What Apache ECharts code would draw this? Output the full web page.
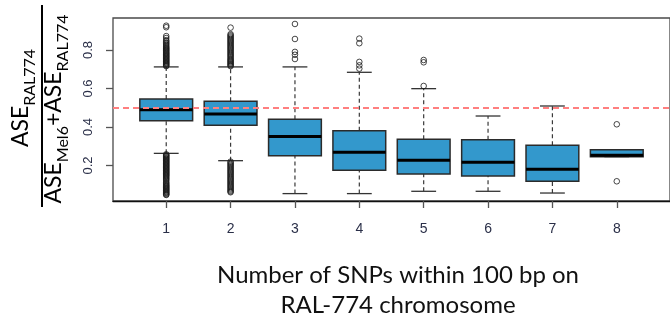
<!DOCTYPE html>
<html><head><meta charset="utf-8">
<script src="https://cdn.jsdelivr.net/npm/echarts@6/dist/echarts.min.js"></script>
<style>html,body{margin:0;padding:0;background:#fff}#c{width:670px;height:323px}</style>
</head><body><div id="c"></div><script>
// ---- data ----
const categories = [1, 2, 3, 4, 5, 6, 7, 8];
const whiskerLow  = [0.263, 0.225, 0.054, 0.054, 0.066, 0.066, 0.057, 0.246];
const quartile1   = [0.433, 0.409, 0.251, 0.175, 0.156, 0.145, 0.118, 0.246];
const medians     = [0.490, 0.467, 0.350, 0.269, 0.227, 0.217, 0.180, 0.253];
const quartile3   = [0.545, 0.533, 0.440, 0.381, 0.336, 0.334, 0.305, 0.282];
const whiskerHigh = [0.712, 0.712, 0.712, 0.684, 0.599, 0.457, 0.509, 0.282];
const outliers1 = [0.716,0.72,0.724,0.728,0.732,0.736,0.74,0.744,0.748,0.752,0.756,0.76,0.764,0.768,0.772,0.776,0.78,0.784,0.788,0.793,0.797,0.801,0.806,0.81,0.815,0.82,0.826,0.832,0.838,0.845,0.851,0.862,0.872,0.918,0.926,
  0.258,0.254,0.25,0.246,0.242,0.238,0.234,0.23,0.226,0.222,0.218,0.214,0.21,0.206,0.202,0.198,0.194,0.19,0.186,0.182,0.178,0.174,0.17,0.166,0.162,0.158,0.154,0.15,0.146,0.141,0.136,0.131,0.126,0.12,0.113,0.108,0.103,0.098,0.094,0.09,0.086,0.082,0.078,0.074,0.07,0.066,0.062,0.058,0.054,0.05,0.047];
const outliers2 = [0.716,0.72,0.725,0.73,0.735,0.74,0.745,0.75,0.755,0.762,0.768,0.774,0.78,0.786,0.792,0.798,0.804,0.81,0.816,0.822,0.828,0.834,0.84,0.846,0.852,0.858,0.864,0.87,0.876,0.882,0.916,
  0.22,0.214,0.208,0.202,0.196,0.19,0.184,0.178,0.172,0.166,0.16,0.154,0.148,0.142,0.136,0.13,0.124,0.118,0.112,0.106,0.1,0.094,0.088,0.082,0.076,0.07,0.065,0.061];
const outliers3 = [0.935, 0.857, 0.79, 0.775, 0.753];
const outliers4 = [0.859, 0.835, 0.738, 0.72, 0.703];
const outliers5 = [0.748, 0.736, 0.613];
const outliers6 = [];
const outliers7 = [];
const outliers8 = [0.414, 0.118];
const yTicks = [0.2, 0.4, 0.6, 0.8];
const xTicks = categories;
const refLine = 0.5;
const xTitle = ['Number of SNPs within 100 bp on', 'RAL-774 chromosome'];

// ---- build ----
const allOutliers = [outliers1, outliers2, outliers3, outliers4, outliers5, outliers6, outliers7, outliers8];
const boxData = categories.map((c, i) => [c, whiskerLow[i], quartile1[i], medians[i], quartile3[i], whiskerHigh[i]]);
const outlierData = [];
allOutliers.forEach((arr, i) => arr.forEach(v => outlierData.push([categories[i], v])));

const TF = 'Lato';
const ctx = document.createElement('canvas').getContext('2d');
function tw(t, size) { ctx.font = size + 'px ' + TF; return ctx.measureText(t).width; }

function fracRow(parts, cx, mainY, subY) {
  const total = parts.reduce((s, p) => s + tw(p.t, p.s), 0);
  let x = cx - total / 2;
  return parts.map(p => {
    const el = { type: 'text', x: x, y: p.sub ? subY : mainY,
      style: { text: p.t, font: p.s + 'px ' + TF, fill: '#000', align: 'left', verticalAlign: 'middle' } };
    x += tw(p.t, p.s);
    return el;
  });
}
const MS = 23, SS = 16;
const num = fracRow([{t:'ASE', s:MS}, {t:'RAL774', s:SS, sub:true}], 8, -21, -12);
const den = fracRow([{t:'ASE', s:MS}, {t:'Mel6', s:SS, sub:true}, {t:'+', s:MS}, {t:'ASE', s:MS}, {t:'RAL774', s:SS, sub:true}], -3, 12, 21);

const chart = echarts.init(document.getElementById('c'));
chart.setOption({
  animation: false,
  backgroundColor: '#fff',
  grid: { left: 113, top: 18, width: 561.6, height: 183, show: true, borderColor: '#4a4a4a', borderWidth: 1.3 },
  xAxis: {
    type: 'value', min: 0.173, max: 8.827,
    splitLine: { show: false },
    axisLine: { show: true, onZero: false, lineStyle: { color: '#111', width: 1.3 } },
    axisTick: { show: true, customValues: xTicks, length: 7, lineStyle: { color: '#555', width: 1.3 } },
    axisLabel: { customValues: xTicks, fontFamily: 'Liberation Sans', fontSize: 14, color: '#2a2f48', margin: 21 }
  },
  yAxis: {
    type: 'value', min: 0.0156, max: 0.966,
    splitLine: { show: false },
    axisLine: { show: false },
    axisTick: { show: true, customValues: yTicks, length: 7, lineStyle: { color: '#555', width: 1.3 } },
    axisLabel: { customValues: yTicks, rotate: 90, fontFamily: 'Liberation Sans', fontSize: 13, color: '#2a2f48', margin: 18,
      formatter: v => v.toFixed(1) }
  },
  series: [
    {
      type: 'custom', z: 2,
      data: boxData,
      encode: { x: 0, y: [1, 2, 3, 4, 5] },
      renderItem: function (params, api) {
        const x = api.value(0), lo = api.value(1), a = api.value(2), m = api.value(3), b = api.value(4), hi = api.value(5);
        const BW = 0.41, CW = 0.193;
        const c = (xx, yy) => api.coord([xx, yy]);
        const dash = { stroke: '#3a3a3a', lineWidth: 1.2, lineDash: [4, 3], fill: null };
        const solid = { stroke: '#333', lineWidth: 1.3, fill: null };
        const ln = (p1, p2, st) => ({ type: 'line', shape: { x1: p1[0], y1: p1[1], x2: p2[0], y2: p2[1] }, style: st });
        const tl = c(x - BW, b), br = c(x + BW, a);
        return { type: 'group', children: [
          ln(c(x, b), c(x, hi), dash),
          ln(c(x, lo), c(x, a), dash),
          ln(c(x - CW, hi), c(x + CW, hi), solid),
          ln(c(x - CW, lo), c(x + CW, lo), solid),
          { type: 'rect', shape: { x: tl[0], y: tl[1], width: br[0] - tl[0], height: br[1] - tl[1] },
            style: { fill: '#3398cc', stroke: '#2b2b2b', lineWidth: 1.5 } },
          ln(c(x - BW, m), c(x + BW, m), { stroke: '#000', lineWidth: 3 })
        ] };
      }
    },
    {
      type: 'scatter', z: 3,
      data: outlierData,
      symbol: 'circle', symbolSize: 5.6,
      itemStyle: { color: 'rgba(0,0,0,0)', borderColor: '#1a1a1a', borderWidth: 1 },
      silent: true
    },
    {
      type: 'line', z: 5, data: [], silent: true,
      markLine: { silent: true, symbol: 'none', label: { show: false },
        lineStyle: { color: '#ff7f7f', type: [6, 4], width: 2 },
        data: [{ yAxis: refLine }] }
    }
  ],
  graphic: [
    { type: 'group', x: 42, y: 106, rotation: Math.PI / 2, children: [
      { type: 'line', shape: { x1: -101, y1: 0, x2: 101, y2: 0 }, style: { stroke: '#000', lineWidth: 2 } }
    ].concat(num, den) },
    { type: 'text', x: 398, y: 275, style: { text: xTitle[0], font: '24px ' + TF, fill: '#111', align: 'center', verticalAlign: 'middle' } },
    { type: 'text', x: 398, y: 305, style: { text: xTitle[1], font: '24px ' + TF, fill: '#111', align: 'center', verticalAlign: 'middle' } }
  ]
});
</script></body></html>
